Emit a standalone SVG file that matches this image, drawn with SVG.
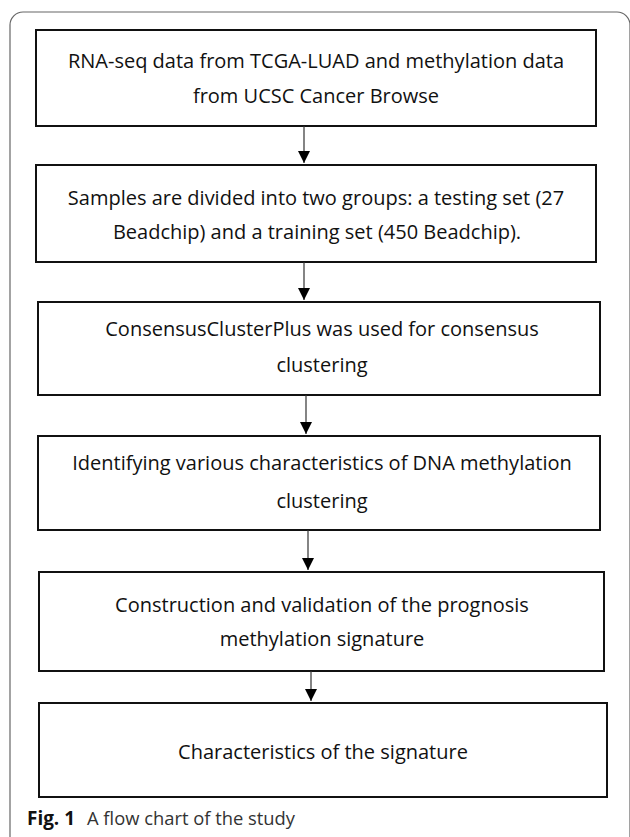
<svg xmlns="http://www.w3.org/2000/svg" width="630" height="837" viewBox="0 0 630 837">
<style>
.box{fill:#fff;stroke:#111;stroke-width:2}
.t{font-family:"Open Sans","Noto Sans",sans-serif;font-size:20px;fill:#111;text-anchor:middle}
.cap{font-family:"Open Sans","Noto Sans",sans-serif;font-size:19px;fill:#333}
.conn line{stroke:#333;stroke-width:1.2}
</style>
<defs>
<marker id="ah" viewBox="0 0 12 12" refX="12" refY="6" markerWidth="12" markerHeight="12" orient="auto" markerUnits="userSpaceOnUse">
<path d="M0,0 L12,6 L0,12 z" fill="#000"/>
</marker>
</defs>
<rect width="630" height="837" fill="#fff"/>
<rect x="10" y="12" width="620" height="840" rx="13" fill="none" stroke="#666" stroke-width="1.2"/>
<g id="n1">
<rect class="box" x="36" y="30" width="560" height="96"/>
<text class="t" x="316" y="68">RNA-seq data from TCGA-LUAD and methylation data</text>
<text class="t" x="316" y="103">from UCSC Cancer Browse</text>
</g>
<g id="n2">
<rect class="box" x="36" y="165" width="560" height="97"/>
<text class="t" x="316" y="205">Samples are divided into two groups: a testing set (27</text>
<text class="t" x="317" y="239">Beadchip) and a training set (450 Beadchip).</text>
</g>
<g id="n3">
<rect class="box" x="38" y="302" width="562" height="93"/>
<text class="t" x="322" y="336">ConsensusClusterPlus was used for consensus</text>
<text class="t" x="322" y="372">clustering</text>
</g>
<g id="n4">
<rect class="box" x="38" y="436" width="562" height="94"/>
<text class="t" x="322" y="470">Identifying various characteristics of DNA methylation</text>
<text class="t" x="322" y="508">clustering</text>
</g>
<g id="n5">
<rect class="box" x="39" y="572" width="565" height="99"/>
<text class="t" x="322" y="612">Construction and validation of the prognosis</text>
<text class="t" x="322" y="646">methylation signature</text>
</g>
<g id="n6">
<rect class="box" x="39" y="703" width="568" height="94"/>
<text class="t" x="323" y="759">Characteristics of the signature</text>
</g>
<g id="connectors" class="conn">
<line x1="304" y1="126" x2="304" y2="163" marker-end="url(#ah)"/>
<line x1="304" y1="262" x2="304" y2="300" marker-end="url(#ah)"/>
<line x1="306" y1="395" x2="306" y2="434" marker-end="url(#ah)"/>
<line x1="308" y1="530" x2="308" y2="570" marker-end="url(#ah)"/>
<line x1="311" y1="671" x2="311" y2="701" marker-end="url(#ah)"/>
</g>
<g id="caption">
<text x="27" y="825" font-family="'Open Sans','Noto Sans',sans-serif" font-size="19" font-weight="bold" fill="#111" textLength="48" lengthAdjust="spacingAndGlyphs">Fig. 1</text>
<text class="cap" x="87" y="825" textLength="208" lengthAdjust="spacingAndGlyphs">A flow chart of the study</text>
</g>
</svg>
